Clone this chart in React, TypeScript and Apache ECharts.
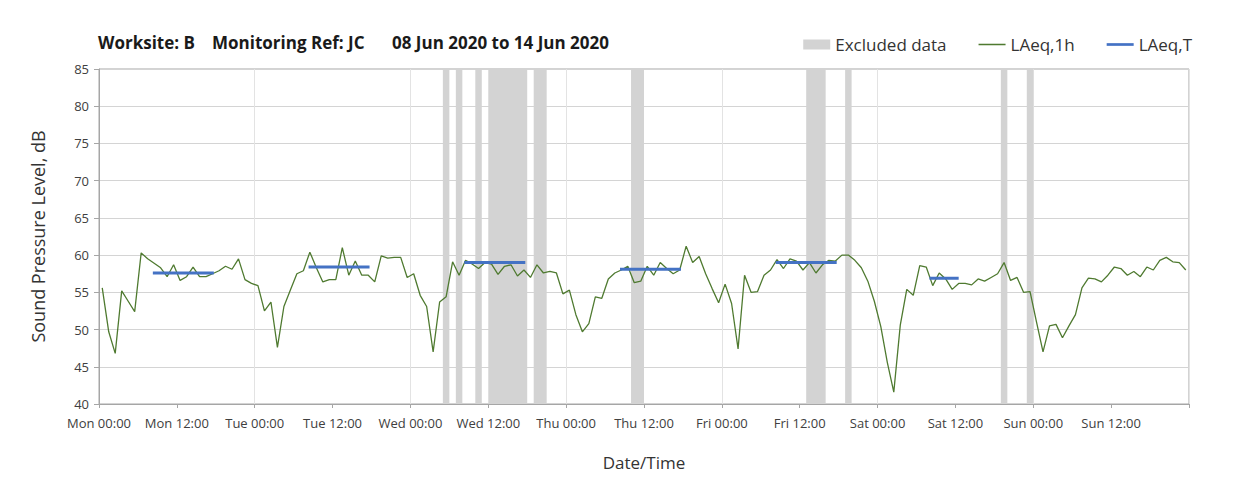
import React, { useEffect, useRef } from "react";
import * as echarts from "echarts";

// Hours counted from Mon 00:00 (08 Jun 2020)
const DAY_NAMES = ["Mon", "Tue", "Wed", "Thu", "Fri", "Sat", "Sun"];
const X_MIN = 0;
const X_MAX = 168;
const Y_MIN = 40;
const Y_MAX = 85;

// LAeq,1h hourly values, Mon 00:00 .. Sun 23:00
const LAEQ_1H_MON = [55.6, 49.7, 46.8, 55.2, 53.8, 52.4, 60.3, 59.5, 58.9, 58.3, 57.1, 58.7, 56.6, 57.1, 58.4, 57.1, 57.1, 57.5, 57.9, 58.5, 58.1, 59.5, 56.7, 56.2];
const LAEQ_1H_TUE = [55.9, 52.5, 53.7, 47.6, 53.1, 55.3, 57.5, 57.9, 60.4, 58.3, 56.4, 56.7, 56.7, 61.0, 57.3, 59.2, 57.3, 57.3, 56.4, 59.9, 59.6, 59.7, 59.7, 57.0];
const LAEQ_1H_WED = [57.5, 54.6, 53.1, 47.0, 53.7, 54.4, 59.1, 57.3, 59.3, 58.8, 58.2, 59.0, 58.8, 57.4, 58.5, 58.7, 57.2, 58.0, 57.0, 58.7, 57.6, 57.8, 57.6, 54.8];
const LAEQ_1H_THU = [55.3, 52.0, 49.7, 50.8, 54.4, 54.2, 56.8, 57.6, 58.0, 58.5, 56.3, 56.5, 58.5, 57.3, 59.0, 58.2, 57.5, 58.0, 61.2, 59.0, 59.8, 57.5, 55.5, 53.6];
const LAEQ_1H_FRI = [56.1, 53.5, 47.4, 57.3, 55.0, 55.1, 57.3, 58.0, 59.4, 58.2, 59.5, 59.2, 58.0, 59.0, 57.6, 58.7, 59.3, 59.2, 60.0, 60.0, 59.3, 58.3, 56.5, 53.8];
const LAEQ_1H_SAT = [50.4, 45.6, 41.6, 50.6, 55.4, 54.6, 58.6, 58.4, 55.9, 57.6, 56.8, 55.4, 56.2, 56.2, 56.0, 56.8, 56.5, 57.0, 57.5, 59.0, 56.6, 57.0, 55.0, 55.1];
const LAEQ_1H_SUN = [51.0, 47.0, 50.5, 50.7, 48.9, 50.5, 52.0, 55.6, 56.9, 56.8, 56.4, 57.3, 58.4, 58.2, 57.3, 57.8, 57.1, 58.4, 58.0, 59.3, 59.7, 59.1, 59.0, 58.0];

// LAeq,T per day: day index, start / end hour of day, value
const LAEQ_T_DAYS = [0, 1, 2, 3, 4, 5];
const LAEQ_T_START = [8.3, 8.3, 8.3, 8.3, 8.3, 8.0];
const LAEQ_T_END = [17.7, 17.7, 17.7, 17.7, 17.7, 12.5];
const LAEQ_T_VALUES = [57.6, 58.4, 59.0, 58.1, 59.0, 56.9];

// Excluded data periods, hours from Mon 00:00
const EXCLUDED_START = [53, 55, 58, 60, 67, 82, 109, 115, 139, 143];
const EXCLUDED_END = [54, 56, 59, 66, 69, 84, 112, 116, 140, 144];

const FONT = "'Open Sans', 'Noto Sans', sans-serif";
const GREEN = "#4f7a30";
const BLUE = "#4472c4";
const BAND = "#d3d3d3";

export default function App() {
  const ref = useRef<HTMLDivElement>(null);

  useEffect(() => {
    document.body.style.margin = "0";
    if (!ref.current) return;
    const chart = echarts.init(ref.current, null, { renderer: "svg" });

    const hourly = [
      ...LAEQ_1H_MON,
      ...LAEQ_1H_TUE,
      ...LAEQ_1H_WED,
      ...LAEQ_1H_THU,
      ...LAEQ_1H_FRI,
      ...LAEQ_1H_SAT,
      ...LAEQ_1H_SUN,
    ];
    const greenData = hourly.map((v, i) => [i + 0.5, v]);
    const bands = EXCLUDED_START.map((s, i) => [s, EXCLUDED_END[i]]);

    const blueSeries = LAEQ_T_DAYS.map((d, i) => ({
      name: "LAeq,T",
      type: "line",
      symbol: "none",
      z: 4,
      lineStyle: { color: BLUE, width: 3 },
      itemStyle: { color: BLUE },
      data: [
        [d * 24 + LAEQ_T_START[i], LAEQ_T_VALUES[i]],
        [d * 24 + LAEQ_T_END[i], LAEQ_T_VALUES[i]],
      ],
    }));

    const titleStyle = { fontFamily: FONT, fontSize: 17, fontWeight: "bold", color: "#1a1a1a" };

    const option: any = {
      animation: false,
      backgroundColor: "#ffffff",
      textStyle: { fontFamily: FONT },
      title: [
        { text: "Worksite: B", left: 93, top: 29, textStyle: titleStyle },
        { text: "Monitoring Ref: JC", left: 207, top: 29, textStyle: titleStyle },
        { text: "08 Jun 2020 to 14 Jun 2020", left: 387, top: 29, textStyle: titleStyle },
      ],
      legend: {
        right: 46,
        top: 31,
        itemWidth: 27,
        itemHeight: 10,
        itemGap: 32,
        textStyle: { fontFamily: FONT, fontSize: 17, color: "#333333" },
        data: [
          { name: "Excluded data", icon: "rect" },
          { name: "LAeq,1h", icon: "path://M0,0 h30 v1.7 h-30 Z" },
          { name: "LAeq,T", icon: "path://M0,0 h30 v3 h-30 Z" },
        ],
      },
      grid: {
        left: 99,
        right: 54,
        top: 69,
        bottom: 91,
        show: true,
        borderColor: "#a6a6a6",
        borderWidth: 1,
      },
      xAxis: [
        {
          type: "value",
          min: X_MIN,
          max: X_MAX,
          interval: 12,
          name: "Date/Time",
          nameLocation: "middle",
          nameGap: 50,
          nameTextStyle: { fontFamily: FONT, fontSize: 17, color: "#333333" },
          axisLine: { lineStyle: { color: "#a6a6a6", width: 1 } },
          axisTick: { show: true, length: 4, lineStyle: { color: "#a6a6a6" } },
          splitLine: { show: false },
          axisLabel: {
            fontFamily: FONT,
            fontSize: 13,
            color: "#404040",
            margin: 12,
            formatter: (v: number) => {
              if (v >= X_MAX) return "";
              const day = Math.floor(v / 24);
              const hr = v % 24;
              return `${DAY_NAMES[day]} ${hr < 10 ? "0" + hr : hr}:00`;
            },
          },
        },
        {
          type: "value",
          min: X_MIN,
          max: X_MAX,
          interval: 24,
          position: "bottom",
          axisLine: { show: false },
          axisTick: { show: false },
          axisLabel: { show: false },
          splitLine: { show: true, lineStyle: { color: "#e3e3e3", width: 1 } },
        },
      ],
      yAxis: {
        type: "value",
        min: Y_MIN,
        max: Y_MAX,
        interval: 5,
        name: "Sound Pressure Level, dB",
        nameLocation: "middle",
        nameGap: 52,
        nameRotate: 90,
        nameTextStyle: { fontFamily: FONT, fontSize: 18, color: "#333333" },
        axisLine: { show: true, lineStyle: { color: "#a6a6a6", width: 1 } },
        axisTick: { show: true, length: 5, lineStyle: { color: "#a6a6a6" } },
        splitLine: { show: true, lineStyle: { color: "#d4d4d4", width: 1 } },
        axisLabel: { fontFamily: FONT, fontSize: 13, color: "#404040", margin: 10 },
      },
      series: [
        {
          name: "Excluded data",
          type: "custom",
          z: 1,
          itemStyle: { color: BAND },
          encode: { x: [0, 1] },
          data: bands,
          renderItem: (_params: any, api: any) => {
            const p0 = api.coord([api.value(0), Y_MAX]);
            const p1 = api.coord([api.value(1), Y_MIN]);
            return {
              type: "rect",
              shape: { x: p0[0], y: p0[1], width: p1[0] - p0[0], height: p1[1] - p0[1] },
              style: { fill: BAND },
            };
          },
        },
        {
          name: "LAeq,1h",
          type: "line",
          symbol: "none",
          z: 3,
          lineStyle: { color: GREEN, width: 1.3 },
          itemStyle: { color: GREEN },
          data: greenData,
        },
        ...blueSeries,
      ],
    };

    chart.setOption(option);
    return () => chart.dispose();
  }, []);

  return <div ref={ref} style={{ width: 1243, height: 495 }} />;
}
